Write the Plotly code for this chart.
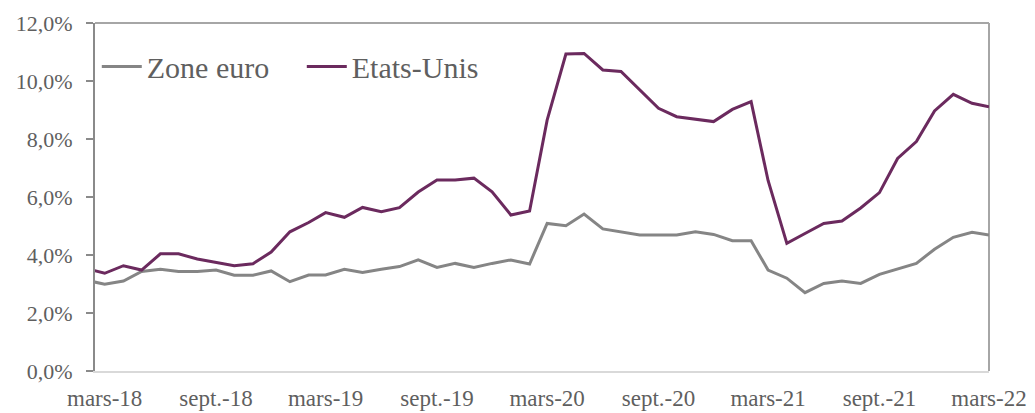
import pandas as pd
import plotly.graph_objects as go

# Monthly observations, Feb-2018 .. Mar-2022 (first one is clipped by the axis)
months = pd.date_range("2018-02-01", "2022-03-01", freq="MS")

zone_euro = [3.12, 2.99, 3.10, 3.43, 3.51, 3.43, 3.43, 3.48, 3.30, 3.30, 3.45,
             3.08, 3.31, 3.31, 3.51, 3.40, 3.51, 3.60, 3.83, 3.57, 3.71, 3.57,
             3.71, 3.83, 3.69, 5.09, 5.01, 5.41, 4.90, 4.80, 4.69, 4.69, 4.69,
             4.80, 4.71, 4.49, 4.49, 3.48, 3.20, 2.70, 3.02, 3.10, 3.02, 3.33,
             3.52, 3.71, 4.20, 4.61, 4.78, 4.69]

etats_unis = [3.52, 3.37, 3.63, 3.48, 4.04, 4.04, 3.86, 3.75, 3.63, 3.70, 4.10,
              4.80, 5.12, 5.46, 5.30, 5.64, 5.49, 5.63, 6.17, 6.59, 6.59, 6.65,
              6.18, 5.38, 5.52, 8.65, 10.93, 10.95, 10.38, 10.33, 9.69, 9.06,
              8.77, 8.69, 8.60, 9.02, 9.29, 6.57, 4.40, 4.74, 5.09, 5.17, 5.62,
              6.15, 7.33, 7.91, 8.97, 9.54, 9.23, 9.11]

tick_dates = ["2018-03-01", "2018-09-01", "2019-03-01", "2019-09-01", "2020-03-01",
              "2020-09-01", "2021-03-01", "2021-09-01", "2022-03-01"]
tick_labels = ["mars-18", "sept.-18", "mars-19", "sept.-19", "mars-20",
               "sept.-20", "mars-21", "sept.-21", "mars-22"]
y_ticks = [0, 2, 4, 6, 8, 10, 12]
y_labels = ["0,0%", "2,0%", "4,0%", "6,0%", "8,0%", "10,0%", "12,0%"]

FONT = "Liberation Serif"
TXT = "#5f5f5f"

fig = go.Figure()
fig.add_trace(go.Scatter(x=months, y=zone_euro, mode="lines", name="Zone euro",
                         line=dict(color="#858585", width=3)))
fig.add_trace(go.Scatter(x=months, y=etats_unis, mode="lines", name="Etats-Unis",
                         line=dict(color="#6b2a5e", width=3)))

# the page body adds an 8 px offset, so the figure is placed to compensate
fig.update_layout(
    width=1023, height=405,
    margin=dict(l=87, r=42, t=15, b=42, autoexpand=False),
    paper_bgcolor="white", plot_bgcolor="white",
    font=dict(family=FONT, color=TXT, size=22),
    showlegend=True,
    legend=dict(orientation="h", x=0.002, y=0.875, xanchor="left", yanchor="middle",
                font=dict(family=FONT, size=30, color=TXT),
                bgcolor="rgba(0,0,0,0)", itemwidth=40, tracegroupgap=0,
                entrywidth=150, entrywidthmode="pixels"),
    xaxis=dict(range=["2018-02-13", "2022-03-01"], tickvals=tick_dates,
               ticktext=tick_labels, showgrid=False, zeroline=False,
               showline=True, linecolor="#d9d9d9", linewidth=2,
               ticks="", ticklabelstandoff=5, automargin=False,
               tickfont=dict(family=FONT, size=23, color=TXT)),
    yaxis=dict(range=[0, 12], tickvals=y_ticks, ticktext=y_labels,
               showgrid=False, zeroline=False, showline=True,
               linecolor="#8a8a8a", linewidth=2, ticks="outside", ticklen=7,
               tickcolor="#8a8a8a", tickwidth=2, ticklabelstandoff=9,
               automargin=False,
               tickfont=dict(family=FONT, size=22, color=TXT)),
    shapes=[
        dict(type="line", xref="paper", yref="paper", x0=0, x1=1, y0=1, y1=1,
             line=dict(color="#a6a6a6", width=2), layer="below"),
        dict(type="line", xref="paper", yref="paper", x0=1, x1=1, y0=0, y1=1,
             line=dict(color="#a6a6a6", width=2), layer="below"),
    ],
)

fig.write_html("out.html")
